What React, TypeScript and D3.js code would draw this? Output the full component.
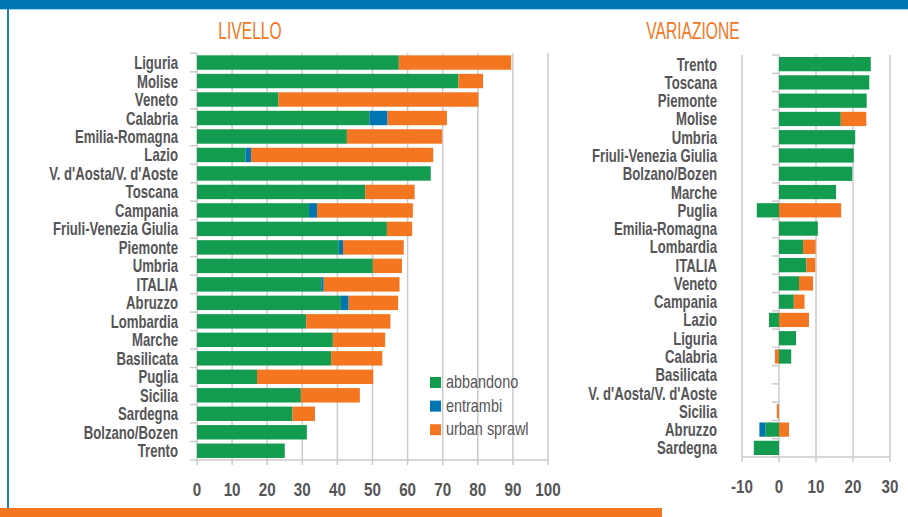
import { useEffect, useRef } from 'react'
import * as d3 from 'd3'

// LIVELLO (left panel)
const levelRegions = ['Liguria', 'Molise', 'Veneto', 'Calabria', 'Emilia-Romagna', 'Lazio', "V. d'Aosta/V. d'Aoste", 'Toscana', 'Campania', 'Friuli-Venezia Giulia', 'Piemonte', 'Umbria', 'ITALIA', 'Abruzzo', 'Lombardia', 'Marche', 'Basilicata', 'Puglia', 'Sicilia', 'Sardegna', 'Bolzano/Bozen', 'Trento']
const levelAbbandono = [57.5, 74.5, 23.2, 49.1, 42.7, 13.8, 66.6, 47.9, 31.9, 54.1, 40.4, 50.1, 35.4, 41.0, 31.1, 38.7, 38.2, 17.1, 29.6, 27.2, 31.3, 25.0]
const levelEntrambi = [0, 0, 0, 5.2, 0, 1.6, 0, 0, 2.3, 0, 1.2, 0, 0.7, 2.2, 0, 0, 0, 0, 0, 0, 0, 0]
const levelSprawl = [32.0, 7.0, 57.0, 16.9, 27.1, 51.9, 0, 14.1, 27.3, 7.2, 17.3, 8.3, 21.6, 14.1, 24.0, 14.9, 14.6, 33.1, 16.8, 6.4, 0, 0]
const levelTicks = [0, 10, 20, 30, 40, 50, 60, 70, 80, 90, 100]

// VARIAZIONE (right panel)
const changeRegions = ['Trento', 'Toscana', 'Piemonte', 'Molise', 'Umbria', 'Friuli-Venezia Giulia', 'Bolzano/Bozen', 'Marche', 'Puglia', 'Emilia-Romagna', 'Lombardia', 'ITALIA', 'Veneto', 'Campania', 'Lazio', 'Liguria', 'Calabria', 'Basilicata', "V. d'Aosta/V. d'Aoste", 'Sicilia', 'Abruzzo', 'Sardegna']
const changeAbbandono = [24.8, 24.4, 23.7, 16.7, 20.6, 20.2, 19.8, 15.4, -6.0, 10.5, 6.5, 7.4, 5.4, 4.0, -2.7, 4.6, 3.3, 0, 0, 0, -3.7, -6.8]
const changeEntrambi = [0, 0, 0, 0, 0, 0, 0, 0, 0, 0, 0, 0, 0, 0, 0, 0, 0, 0, 0, 0, -1.6, 0]
const changeSprawl = [0, 0, 0, 6.9, 0, 0, 0, 0, 16.8, 0, 3.4, 2.4, 3.8, 2.9, 8.1, 0, -1.1, 0, 0, -0.6, 2.7, 0]
const changeTicks = [-10, 0, 10, 20, 30]

const seriesNames = ['abbandono', 'entrambi', 'urban sprawl']
const colors = ['#139B50', '#0075B1', '#F47621']

const FONT = '"Liberation Sans", Arial, sans-serif'
const TEXT = '#555557'
const GRID = '#CBCBCB'
const SX = 0.74

function addText(g: any, x: number, y: number, txt: string, opts: any = {}) {
  return g.append('text')
    .attr('transform', `translate(${x},${y}) scale(${opts.sx ?? SX},1)`)
    .attr('text-anchor', opts.anchor ?? 'end')
    .style('font-family', FONT)
    .style('font-size', `${opts.size ?? 17.8}px`)
    .style('font-weight', opts.weight ?? 'bold')
    .attr('fill', opts.fill ?? TEXT)
    .text(txt)
}

function drawPanel(svg: any, cfg: any) {
  const { cats, a, b, c, ticks, xr, yr, labelEnd, gridTicks, tickLabelY } = cfg
  const x = d3.scaleLinear().domain([ticks[0], ticks[ticks.length - 1]]).range(xr)
  const y = d3.scaleBand().domain(cats).range(yr).paddingInner(0.22).paddingOuter(0.11)
  const g = svg.append('g')
  const x0 = x(0)
  const bottom = yr[1]

  // gridlines
  g.selectAll('.grid').data(gridTicks).enter().append('line')
    .attr('x1', (d: number) => x(d)).attr('x2', (d: number) => x(d))
    .attr('y1', yr[0]).attr('y2', bottom + 5)
    .attr('stroke', GRID).attr('stroke-width', 1.5)

  // bottom axis line
  g.append('line').attr('x1', xr[0]).attr('x2', xr[1]).attr('y1', bottom).attr('y2', bottom)
    .attr('stroke', GRID).attr('stroke-width', 1.5)

  // value axis line at 0 + category boundary ticks
  g.append('line').attr('x1', x0).attr('x2', x0).attr('y1', yr[0]).attr('y2', bottom + 5)
    .attr('stroke', GRID).attr('stroke-width', 1.5)
  const step = y.step()
  g.selectAll('.ctick').data(d3.range(cats.length + 1)).enter().append('line')
    .attr('x1', x0 - 7).attr('x2', x0)
    .attr('y1', (i: number) => yr[0] + i * step).attr('y2', (i: number) => yr[0] + i * step)
    .attr('stroke', GRID).attr('stroke-width', 1.5)

  // stacked bars
  const rows = cats.map((cat: string, i: number) => ({ cat, s0: a[i], s1: b[i], s2: c[i] }))
  const stack = d3.stack<any>().keys(['s0', 's1', 's2']).offset(d3.stackOffsetDiverging)
  const layers = stack(rows)
  layers.forEach((layer: any, li: number) => {
    g.selectAll(`.bar${li}`).data(layer).enter().append('rect')
      .attr('x', (d: any) => x(Math.min(d[0], d[1])))
      .attr('width', (d: any) => Math.abs(x(d[1]) - x(d[0])))
      .attr('y', (d: any) => y(d.data.cat))
      .attr('height', y.bandwidth())
      .attr('fill', colors[li])
  })

  // category labels
  cats.forEach((cat: string) => {
    addText(g, labelEnd, (y(cat) as number) + y.bandwidth() / 2 + 6.5, cat)
  })

  // tick labels
  ticks.forEach((t: number) => {
    addText(g, x(t), tickLabelY, String(t), { anchor: 'middle', size: 19, sx: 0.8 })
  })
}

export default function App() {
  const ref = useRef<SVGSVGElement | null>(null)

  useEffect(() => {
    const svg = d3.select(ref.current)
    svg.selectAll('*').remove()

    // frame
    svg.append('rect').attr('x', 0).attr('y', 0).attr('width', 908).attr('height', 9).attr('fill', '#0077B0')
    svg.append('line').attr('x1', 0).attr('x2', 908).attr('y1', 9.5).attr('y2', 9.5).attr('stroke', '#A9D8EE')
    svg.append('rect').attr('x', 7).attr('y', 9).attr('width', 2).attr('height', 499).attr('fill', '#1A7FB6')
    svg.append('rect').attr('x', 0).attr('y', 508).attr('width', 662).attr('height', 9).attr('fill', '#F47621')

    // titles
    addText(svg, 250, 39, 'LIVELLO', { anchor: 'middle', size: 24, weight: 'normal', sx: 0.65, fill: '#F47621' })
    addText(svg, 693, 39, 'VARIAZIONE', { anchor: 'middle', size: 24, weight: 'normal', sx: 0.65, fill: '#F47621' })

    drawPanel(svg, {
      cats: levelRegions, a: levelAbbandono, b: levelEntrambi, c: levelSprawl,
      ticks: levelTicks, gridTicks: levelTicks.slice(1),
      xr: [197, 548], yr: [53.3, 460], labelEnd: 178, tickLabelY: 496,
    })

    drawPanel(svg, {
      cats: changeRegions, a: changeAbbandono, b: changeEntrambi, c: changeSprawl,
      ticks: changeTicks, gridTicks: changeTicks.filter(t => t !== 0),
      xr: [742, 890], yr: [55, 457], labelEnd: 717, tickLabelY: 493,
    })

    // legend
    const lg = svg.append('g')
    seriesNames.forEach((name, i) => {
      const yy = 377 + i * 23.6
      lg.append('rect').attr('x', 430).attr('y', yy).attr('width', 11).attr('height', 11).attr('fill', colors[i])
      addText(lg, 446, yy + 11, name, { anchor: 'start', size: 18.5, weight: 'normal', sx: 0.78 })
    })
  }, [])

  return (
    <svg ref={ref} width={908} height={517}
      style={{ position: 'absolute', left: 0, top: 0, background: '#fff' }} />
  )
}
